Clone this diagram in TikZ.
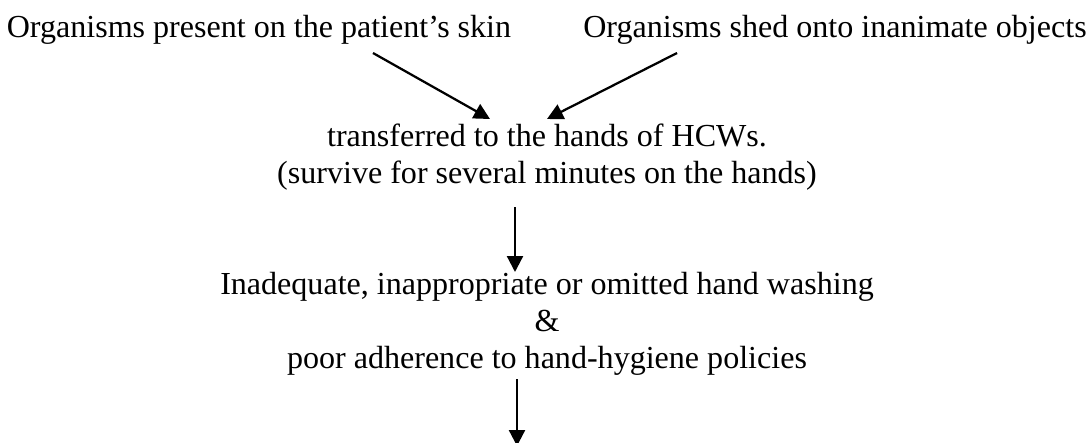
\documentclass[tikz,border=0pt]{standalone}
\usepackage{fontspec}
\setmainfont{Liberation Serif}
\usetikzlibrary{arrows.meta}
\tikzset{
  txt/.style={inner sep=0pt, anchor=base, align=center,
              font=\fontsize{22.8pt}{26pt}\selectfont},
  flow/.style={-{Triangle[length=0.4cm, width=0.4cm]}, line width=1.6pt},
}
\begin{document}
\begin{tikzpicture}[x=0.025cm, y=-0.025cm]
    \useasboundingbox (0,0) rectangle (1091,442);
    \node[txt] (skin) at (259, 37) {Organisms present on the patient’s skin};
    \node[txt] (objects) at (835, 37) {Organisms shed onto inanimate objects};
    \node[txt] (hands) at (547, 183) {transferred to the hands of HCWs.\\(survive for several minutes on the hands)};
    \node[txt] (wash) at (547, 368) {Inadequate, inappropriate or omitted hand washing\\\&\\poor adherence to hand-hygiene policies};
    \coordinate (next) at ([shift={(-30,78)}]wash.base);
    \draw[flow] ([shift={(114,16)}]skin.base) -- ([shift={(-57,-64)}]hands.base);
    \draw[flow] ([shift={(-158,16)}]objects.base) -- ([shift={(0,-64)}]hands.base);
    \draw[flow] ([shift={(-32,24)}]hands.base) -- ([shift={(-32,-96)}]wash.base);
    \draw[flow] ([shift={(-30,11)}]wash.base) -- (next);
  \end{tikzpicture}
\end{document}
